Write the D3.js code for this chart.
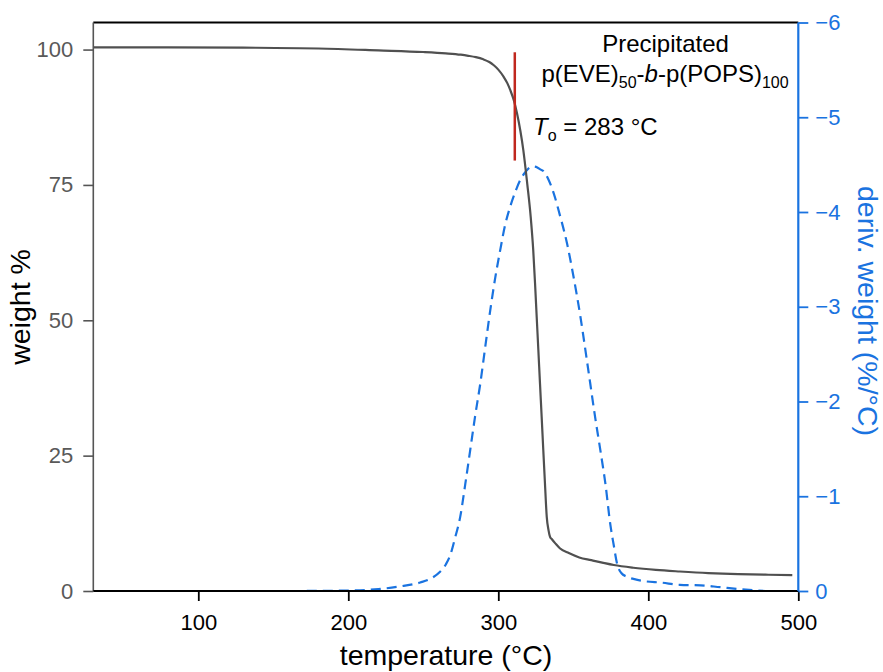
<!DOCTYPE html>
<html>
<head>
<meta charset="utf-8">
<script src="https://cdn.jsdelivr.net/npm/d3@7"></script>
<style>
  html, body { margin: 0; padding: 0; background: #fff; }
  svg { display: block; font-family: "Liberation Sans", Arial, sans-serif; }
</style>
</head>
<body>
<svg id="chart" width="883" height="672"></svg>
<script>
// ---- data ----
const weightT = [30, 80, 130, 180, 220, 250, 265, 275, 280, 285, 290, 294, 297, 300, 303.5, 306, 308, 310.5, 312.5, 314.7, 316.7, 319.3, 321.6, 323.3, 324.5, 325.6, 326.7, 327.8, 328.9, 330, 331.1, 332.3, 333.5, 334.5, 335.6, 338, 341, 347, 354, 362, 370, 377, 390, 405, 421, 440, 460, 480, 496];
const weightPct = [100.4, 100.4, 100.35, 100.2, 99.85, 99.55, 99.3, 99.05, 98.85, 98.6, 98.2, 97.7, 97.1, 96.3, 95.0, 93.8, 92.5, 90.5, 88.2, 85.0, 81.4, 75.2, 69.1, 62.9, 56.8, 50.6, 44.5, 38.3, 32.2, 26.0, 19.9, 13.7, 11.2, 10.0, 9.6, 8.8, 7.9, 7.0, 6.2, 5.7, 5.2, 4.8, 4.3, 3.9, 3.6, 3.3, 3.1, 3.0, 2.95];

const derivT = [119, 160, 200, 220, 235, 248, 256, 261, 265, 268, 271, 274.7, 278, 281.3, 284.5, 288, 291.5, 294.7, 298, 301.3, 304.5, 308, 311.5, 314.7, 318, 321, 323.5, 326, 328, 330.2, 333.5, 336.9, 341, 345.8, 350, 354.7, 358, 361.3, 364.5, 368, 371.5, 374.7, 377, 379, 382, 385.8, 392, 399, 408, 421, 435, 448, 461, 470, 478];
const derivVal = [0, 0, -0.005, -0.02, -0.05, -0.09, -0.14, -0.2, -0.28, -0.38, -0.55, -0.79, -1.13, -1.49, -1.84, -2.19, -2.6, -2.97, -3.31, -3.6, -3.86, -4.06, -4.22, -4.34, -4.42, -4.47, -4.48, -4.47, -4.45, -4.43, -4.34, -4.2, -3.97, -3.67, -3.33, -2.9, -2.55, -2.19, -1.84, -1.49, -1.12, -0.7, -0.48, -0.3, -0.19, -0.15, -0.12, -0.1, -0.09, -0.065, -0.06, -0.04, -0.02, -0.008, 0];

const xTicks = [100, 200, 300, 400, 500];
const yLeftTicks = [0, 25, 50, 75, 100];
const yRightTicks = [0, -1, -2, -3, -4, -5, -6];
const onsetMarkerT = 311;
const onsetMarkerRange = [79.5, 99.5];
const titleLines = ["Precipitated"];

// ---- layout ----
const W = 883, H = 672;
const m = { left: 93.3, right: 798.3, top: 22.5, bottom: 591 };
const blue = "#1a73e0";
const grayLine = "#555555";

const svg = d3.select("#chart");

const x = d3.scaleLinear().domain([30, 500]).range([m.left, m.right]);
const yL = d3.scaleLinear().domain([0, 105]).range([m.bottom, m.top]);
const yR = d3.scaleLinear().domain([0, -6]).range([m.bottom, m.top]);

// top border
svg.append("line")
  .attr("x1", m.left).attr("x2", m.right)
  .attr("y1", m.top).attr("y2", m.top)
  .attr("stroke", "#000").attr("stroke-width", 2);

// derivative curve (dashed blue)
const derivData = derivT.map((t, i) => [t, derivVal[i]]);
svg.append("path")
  .datum(derivData)
  .attr("fill", "none")
  .attr("stroke", blue)
  .attr("stroke-width", 2.2)
  .attr("stroke-dasharray", "10,6")
  .attr("d", d3.line().x(d => x(d[0])).y(d => yR(d[1])).curve(d3.curveMonotoneX));

// weight curve
const weightData = weightT.map((t, i) => [t, weightPct[i]]);
svg.append("path")
  .datum(weightData)
  .attr("fill", "none")
  .attr("stroke", "#505050")
  .attr("stroke-width", 2.2)
  .attr("d", d3.line().x(d => x(d[0])).y(d => yL(d[1])).curve(d3.curveMonotoneX));

// onset marker
svg.append("line")
  .attr("x1", x(onsetMarkerT)).attr("x2", x(onsetMarkerT))
  .attr("y1", yL(onsetMarkerRange[1])).attr("y2", yL(onsetMarkerRange[0]))
  .attr("stroke", "#c0281e").attr("stroke-width", 2.5);

// left axis
const gL = svg.append("g").attr("transform", `translate(${m.left},0)`)
  .call(d3.axisLeft(yL).tickValues(yLeftTicks).tickSize(10).tickPadding(10).tickFormat(d3.format("d")));
gL.select(".domain").attr("stroke", grayLine).attr("stroke-width", 1.6)
  .attr("d", `M0,${m.top}V${m.bottom}`);
gL.selectAll(".tick line").attr("stroke", grayLine).attr("stroke-width", 1.6);
gL.selectAll(".tick text").attr("fill", "#595959").attr("font-size", 22)
  .attr("font-family", "Liberation Sans, Arial, sans-serif");

// bottom axis
const gB = svg.append("g").attr("transform", `translate(0,${m.bottom})`)
  .call(d3.axisBottom(x).tickValues(xTicks).tickSize(10).tickPadding(8).tickFormat(d3.format("d")));
gB.select(".domain").attr("stroke", "#000").attr("stroke-width", 2)
  .attr("d", `M${m.left},0H${m.right}`);
gB.selectAll(".tick line").attr("stroke", "#000").attr("stroke-width", 1.8);
gB.selectAll(".tick text").attr("fill", "#000").attr("font-size", 22)
  .attr("font-family", "Liberation Sans, Arial, sans-serif")
  .attr("dy", null).attr("y", 39);

// right axis
const gR = svg.append("g").attr("transform", `translate(${m.right},0)`)
  .call(d3.axisRight(yR).tickValues(yRightTicks).tickSize(10).tickPadding(7)
    .tickFormat(d => d === 0 ? "0" : "\u2212" + Math.abs(d)));
gR.select(".domain").attr("stroke", blue).attr("stroke-width", 2.2)
  .attr("d", `M0,${m.top}V${m.bottom}`);
gR.selectAll(".tick line").attr("stroke", blue).attr("stroke-width", 1.8);
gR.selectAll(".tick text").attr("fill", blue).attr("font-size", 22)
  .attr("font-family", "Liberation Sans, Arial, sans-serif");

// axis titles
svg.append("text")
  .attr("x", 446).attr("y", 665)
  .attr("text-anchor", "middle").attr("font-size", 28.5).attr("fill", "#000")
  .text("temperature (°C)");

svg.append("text")
  .attr("transform", "translate(30,307) rotate(-90)")
  .attr("text-anchor", "middle").attr("font-size", 28.5).attr("fill", "#000")
  .text("weight %");

svg.append("text")
  .attr("transform", "translate(858,311) rotate(90)")
  .attr("text-anchor", "middle").attr("font-size", 28.5).attr("fill", blue)
  .text("deriv. weight (%/°C)");

// annotation
svg.append("text")
  .attr("x", 665.5).attr("y", 51.7)
  .attr("text-anchor", "middle").attr("font-size", 24).attr("fill", "#000")
  .text(titleLines[0]);

const t2 = svg.append("text")
  .attr("x", 665).attr("y", 81.7)
  .attr("text-anchor", "middle").attr("font-size", 24).attr("fill", "#000");
t2.append("tspan").text("p(EVE)");
t2.append("tspan").attr("font-size", 16).attr("dy", 6).text("50");
t2.append("tspan").attr("dy", -6).text("-");
t2.append("tspan").attr("font-style", "italic").text("b");
t2.append("tspan").text("-p(POPS)");
t2.append("tspan").attr("font-size", 16).attr("dy", 6).text("100");

const t3 = svg.append("text")
  .attr("x", 533).attr("y", 135)
  .attr("font-size", 24).attr("fill", "#000");
t3.append("tspan").attr("font-style", "italic").text("T");
t3.append("tspan").attr("font-size", 16).attr("dy", 6).text("o");
t3.append("tspan").attr("dy", -6).text(" = 283 °C");
</script>
</body>
</html>
